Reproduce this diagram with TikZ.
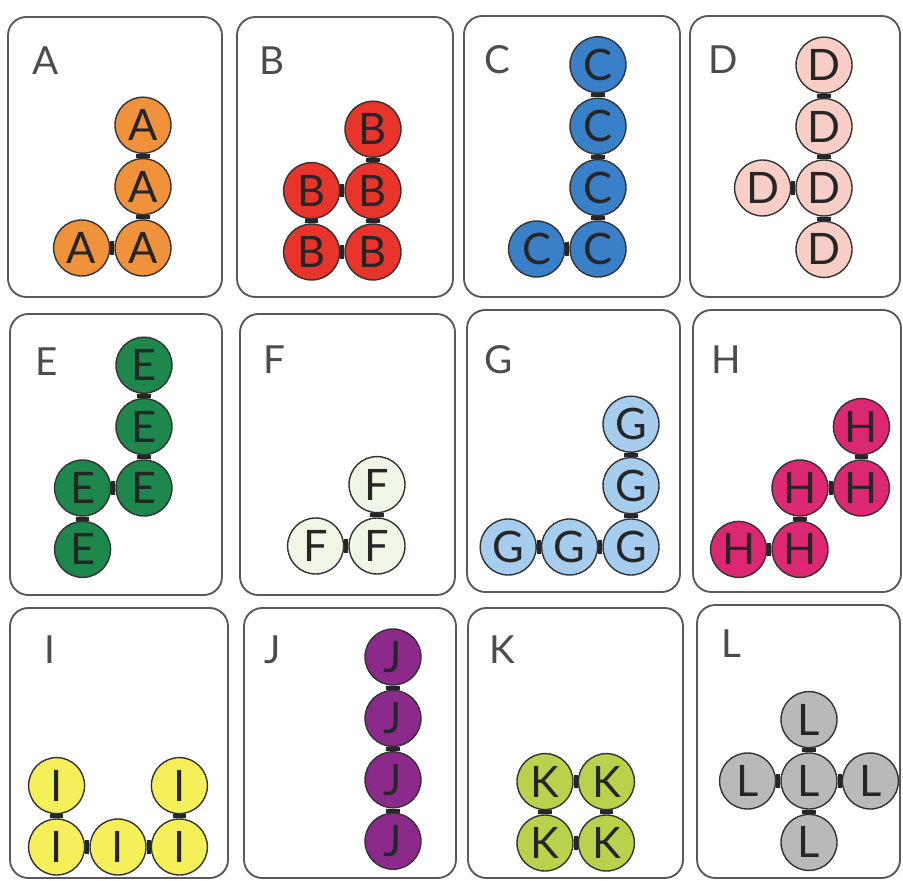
\documentclass[tikz,border=0pt]{standalone}
\usepackage{fontspec}
\setmainfont{Lato}
\usetikzlibrary{positioning, backgrounds}

\definecolor{orangeA}{HTML}{F0913C}
\definecolor{redB}{HTML}{E8342A}
\definecolor{blueC}{HTML}{3A80C8}
\definecolor{pinkD}{HTML}{F8CEC6}
\definecolor{greenE}{HTML}{1E874B}
\definecolor{paleF}{HTML}{F0F6E6}
\definecolor{skyG}{HTML}{A6CDEE}
\definecolor{magentaH}{HTML}{DC2873}
\definecolor{yellowI}{HTML}{F5F05A}
\definecolor{purpleJ}{HTML}{8C2A8C}
\definecolor{limeK}{HTML}{B9D24B}
\definecolor{greyL}{HTML}{B9B9B9}

\begin{document}
\begin{tikzpicture}[x=0.03cm, y=-0.03cm, node distance=0.12cm,
  card/.style={draw=black!65, line width=1.6pt, rounded corners=0.55cm},
  tag/.style={text=black!70, font=\fontsize{33}{33}\selectfont},
  atom/.style={circle, draw=black!80, line width=1.2pt, fill=#1, minimum size=1.68cm, inner sep=0pt, font=\fontsize{37}{37}\selectfont, text=black!85},
  bond/.style={line width=0.4cm, black!85}]
\useasboundingbox (0,0) rectangle (903,881);

% Cards, row by row
\draw[card] (8,17) rectangle (222,297);
\draw[card] (237,17) rectangle (453,297);
\draw[card] (464,16) rectangle (680,297);
\draw[card] (690,16) rectangle (900,297);
\draw[card] (10,314) rectangle (222,595);
\draw[card] (240,314) rectangle (455,595);
\draw[card] (467,310) rectangle (680,592);
\draw[card] (693,310) rectangle (901,592);
\draw[card] (10,608) rectangle (228,878);
\draw[card] (244,608) rectangle (456,878);
\draw[card] (468,608) rectangle (683,878);
\draw[card] (697,605) rectangle (900,878);

% Card letters
\node[tag] (tA) at (46,61)  {A};
\node[tag] (tB) at (272,61) {B};
\node[tag] (tC) at (497,60) {C};
\node[tag] (tD) at (723,60) {D};
\node[tag] (tE) at (47,362) {E};
\node[tag] (tF) at (274,360) {F};
\node[tag] (tG) at (499,360) {G};
\node[tag] (tH) at (726,360) {H};
\node[tag] (tI) at (50,650) {I};
\node[tag] (tJ) at (273,650) {J};
\node[tag] (tK) at (502,650) {K};
\node[tag] (tL) at (731,644) {L};

% A
\node[atom=orangeA] (a1) at (143,248) {A};
\node[atom=orangeA, left=of a1]  (a2) {A};
\node[atom=orangeA, above=of a1] (a3) {A};
\node[atom=orangeA, above=of a3] (a4) {A};

% B
\node[atom=redB] (b1) at (373,252) {B};
\node[atom=redB, left=of b1]  (b2) {B};
\node[atom=redB, above=of b1] (b3) {B};
\node[atom=redB, above=of b2] (b4) {B};
\node[atom=redB, above=of b3] (b5) {B};

% C
\node[atom=blueC] (c1) at (598,249) {C};
\node[atom=blueC, left=of c1]  (c2) {C};
\node[atom=blueC, above=of c1] (c3) {C};
\node[atom=blueC, above=of c3] (c4) {C};
\node[atom=blueC, above=of c4] (c5) {C};

% D
\node[atom=pinkD] (d1) at (824,188) {D};
\node[atom=pinkD, above=of d1] (d2) {D};
\node[atom=pinkD, above=of d2] (d3) {D};
\node[atom=pinkD, below=of d1] (d4) {D};
\node[atom=pinkD, left=of d1]  (d5) {D};

% E
\node[atom=greenE] (e1) at (144,488) {E};
\node[atom=greenE, above=of e1] (e2) {E};
\node[atom=greenE, above=of e2] (e3) {E};
\node[atom=greenE, left=of e1]  (e4) {E};
\node[atom=greenE, below=of e4] (e5) {E};

% F
\node[atom=paleF] (f1) at (377,546) {F};
\node[atom=paleF, above=of f1] (f2) {F};
\node[atom=paleF, left=of f1]  (f3) {F};

% G
\node[atom=skyG] (g1) at (631,547) {G};
\node[atom=skyG, above=of g1] (g2) {G};
\node[atom=skyG, above=of g2] (g3) {G};
\node[atom=skyG, left=of g1]  (g4) {G};
\node[atom=skyG, left=of g4]  (g5) {G};

% H
\node[atom=magentaH] (h1) at (800,488) {H};
\node[atom=magentaH, right=of h1] (h2) {H};
\node[atom=magentaH, above=of h2] (h3) {H};
\node[atom=magentaH, below=of h1] (h4) {H};
\node[atom=magentaH, left=of h4]  (h5) {H};

% I
\node[atom=yellowI] (i1) at (118,847) {I};
\node[atom=yellowI, left=of i1]  (i2) {I};
\node[atom=yellowI, right=of i1] (i3) {I};
\node[atom=yellowI, above=of i2] (i4) {I};
\node[atom=yellowI, above=of i3] (i5) {I};

% J
\node[atom=purpleJ] (j1) at (393,657) {J};
\node[atom=purpleJ, below=of j1] (j2) {J};
\node[atom=purpleJ, below=of j2] (j3) {J};
\node[atom=purpleJ, below=of j3] (j4) {J};

% K
\node[atom=limeK] (k1) at (545,843) {K};
\node[atom=limeK, right=of k1] (k2) {K};
\node[atom=limeK, above=of k1] (k3) {K};
\node[atom=limeK, above=of k2] (k4) {K};

% L
\node[atom=greyL] (l1) at (809,781) {L};
\node[atom=greyL, above=of l1] (l2) {L};
\node[atom=greyL, below=of l1] (l3) {L};
\node[atom=greyL, left=of l1]  (l4) {L};
\node[atom=greyL, right=of l1] (l5) {L};

% Bonds behind the atoms
\begin{scope}[on background layer]
\draw[bond] (a1) -- (a2);  \draw[bond] (a1) -- (a3);  \draw[bond] (a3) -- (a4);
\draw[bond] (b1) -- (b2);  \draw[bond] (b1) -- (b3);  \draw[bond] (b2) -- (b4);
\draw[bond] (b3) -- (b4);  \draw[bond] (b3) -- (b5);
\draw[bond] (c1) -- (c2);  \draw[bond] (c1) -- (c3);  \draw[bond] (c3) -- (c4);
\draw[bond] (c4) -- (c5);
\draw[bond] (d1) -- (d2);  \draw[bond] (d2) -- (d3);  \draw[bond] (d1) -- (d4);
\draw[bond] (d1) -- (d5);
\draw[bond] (e1) -- (e2);  \draw[bond] (e2) -- (e3);  \draw[bond] (e1) -- (e4);
\draw[bond] (e4) -- (e5);
\draw[bond] (f1) -- (f2);  \draw[bond] (f1) -- (f3);
\draw[bond] (g1) -- (g2);  \draw[bond] (g2) -- (g3);  \draw[bond] (g1) -- (g4);
\draw[bond] (g4) -- (g5);
\draw[bond] (h1) -- (h2);  \draw[bond] (h2) -- (h3);  \draw[bond] (h1) -- (h4);
\draw[bond] (h4) -- (h5);
\draw[bond] (i1) -- (i2);  \draw[bond] (i1) -- (i3);  \draw[bond] (i2) -- (i4);
\draw[bond] (i3) -- (i5);
\draw[bond] (j1) -- (j2);  \draw[bond] (j2) -- (j3);  \draw[bond] (j3) -- (j4);
\draw[bond] (k1) -- (k2);  \draw[bond] (k3) -- (k4);  \draw[bond] (k1) -- (k3);
\draw[bond] (k2) -- (k4);
\draw[bond] (l1) -- (l2);  \draw[bond] (l1) -- (l3);  \draw[bond] (l1) -- (l4);
\draw[bond] (l1) -- (l5);
\end{scope}
\end{tikzpicture}
\end{document}
